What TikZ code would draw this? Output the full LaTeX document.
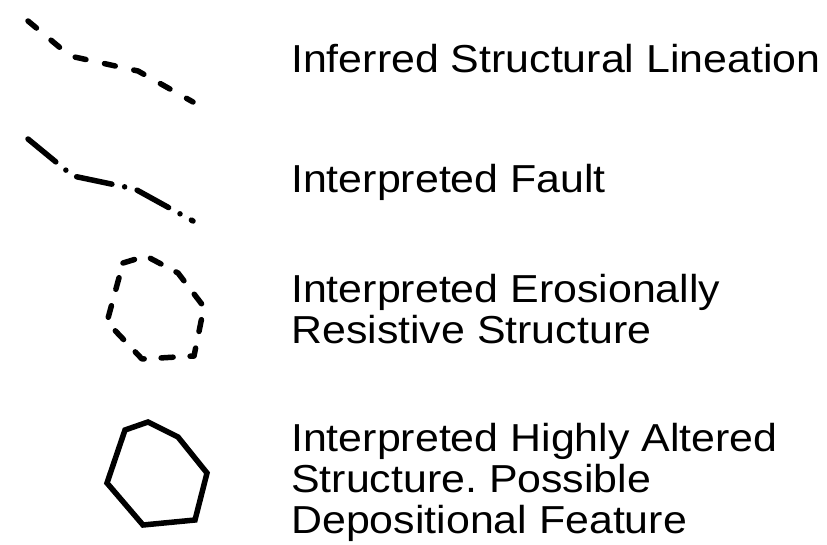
\documentclass[tikz,border=0pt]{standalone}
\usepackage{fontspec}
\setmainfont{Liberation Sans}[FakeStretch=1.1]
\usepackage{tikz}
\frenchspacing

\tikzset{
  legendtext/.style={anchor=base west, inner sep=0pt, align=left,
    font=\fontsize{39}{41}\selectfont},
  symline/.style={line width=5.5pt, black},
  lineation/.style={symline, line cap=round, dash pattern=on 11pt off 19pt},
  fault/.style={symline, line cap=round, dash pattern=on 36pt off 13pt on 0pt off 13pt},
  resist/.style={symline, line cap=round, line join=round, dash pattern=on 12pt off 17pt},
  altered/.style={symline, line join=miter},
}

\begin{document}
\begin{tikzpicture}[x=1pt, y=-1pt]
    \useasboundingbox (0,0) rectangle (827,545);

    % Inferred structural lineation
    \draw[lineation] (28,21) -- (70,56) -- (138,71) -- (193,102);
    \node[legendtext] (lineation) at (291,73) {Inferred Structural Lineation};

    % Interpreted fault
    \draw[fault] (28,139) -- (73,176) -- (135,189) -- (193,221);
    \node[legendtext] (fault) at (291,193) {Interpreted Fault};

    % Erosionally resistive structure
    \draw[resist] (123,263) -- (146,256) -- (178,273) -- (204,307)
        -- (194,356) -- (142,359) -- (107,322) -- cycle;
    \node[legendtext] (resist) at (291,343) {Interpreted Erosionally\\Resistive Structure};

    % Highly altered structure
    \draw[altered] (125,430) -- (148,422) -- (178,437) -- (207,473)
        -- (195,520) -- (143,525) -- (107,483) -- cycle;
    \node[legendtext] (altered) at (291,533) {Interpreted Highly Altered\\Structure. Possible\\Depositional Feature};
\end{tikzpicture}
\end{document}
